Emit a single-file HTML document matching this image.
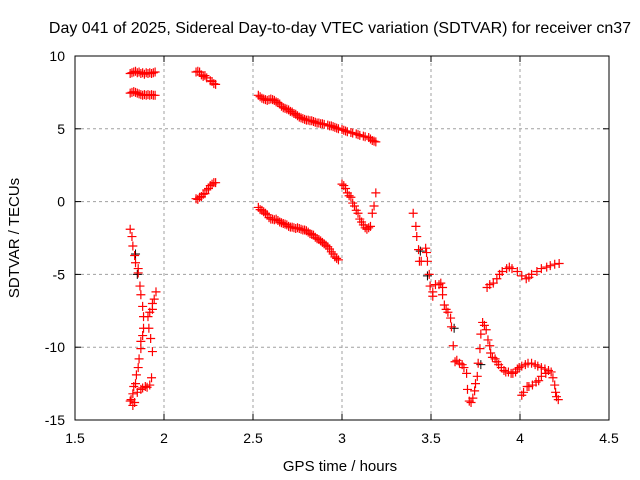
<!DOCTYPE html>
<html><head><meta charset="utf-8"><style>
html,body{margin:0;padding:0;background:#fff;}
svg{display:block;font-family:"Liberation Sans",sans-serif;}
</style></head><body>
<svg id="chart" width="640" height="480" viewBox="0 0 640 480" xmlns="http://www.w3.org/2000/svg">
<rect x="0" y="0" width="640" height="480" fill="#fff"/>
<g id="grid"></g>
<g id="marks"></g>
<rect x="75" y="56" width="534" height="364" fill="none" stroke="#000" stroke-width="1"/>
<g id="ticks"></g>
<text x="340" y="33" font-size="16" text-anchor="middle">Day 041 of 2025, Sidereal Day-to-day VTEC variation (SDTVAR) for receiver cn37</text>
<text x="340" y="471" font-size="15" text-anchor="middle">GPS time / hours</text>
<text transform="translate(19,238) rotate(-90)" font-size="15" text-anchor="middle">SDTVAR / TECUs</text>
</svg>
<script>
const xTicks=[1.5,2,2.5,3,3.5,4,4.5];
const yTicks=[10,5,0,-5,-10,-15];
const segA=[[1.81,8.8],[1.82,8.85],[1.83,8.9],[1.84,8.95],[1.85,8.85],[1.86,8.9],[1.87,8.8],[1.88,8.85],[1.89,8.75],[1.9,8.85],[1.91,8.8],[1.92,8.85],[1.93,8.8],[1.94,8.85],[1.95,8.9]];
const segB=[[1.81,7.45],[1.82,7.5],[1.83,7.55],[1.84,7.5],[1.85,7.45],[1.86,7.4],[1.87,7.35],[1.88,7.3],[1.89,7.35],[1.9,7.3],[1.91,7.35],[1.92,7.3],[1.93,7.35],[1.94,7.3],[1.95,7.3]];
const segC=[[2.18,8.9],[2.19,8.95],[2.2,8.9],[2.21,8.7],[2.22,8.6],[2.23,8.65],[2.24,8.5],[2.26,8.3],[2.27,8.25],[2.28,8.1],[2.29,8.05]];
const segD=[[2.18,0.2],[2.19,0.15],[2.2,0.3],[2.21,0.35],[2.22,0.5],[2.23,0.55],[2.24,0.8],[2.25,0.9],[2.26,1.1],[2.27,1.2],[2.28,1.3],[2.29,1.3]];
const segE=[[2.53,7.3],[2.54,7.2],[2.55,7.1],[2.56,7.05],[2.57,7.0],[2.58,6.95],[2.59,7.0],[2.6,7.05],[2.61,7.0],[2.62,6.95],[2.63,6.85],[2.64,6.8],[2.65,6.7],[2.66,6.55],[2.67,6.45],[2.68,6.4],[2.69,6.35],[2.7,6.3],[2.71,6.2],[2.72,6.15],[2.73,6.05],[2.74,6.0],[2.75,5.9],[2.76,5.8],[2.77,5.75],[2.78,5.7],[2.79,5.65],[2.8,5.6],[2.81,5.6],[2.82,5.55],[2.83,5.55],[2.84,5.5],[2.85,5.45],[2.86,5.4],[2.87,5.4],[2.88,5.35],[2.89,5.35],[2.9,5.3],[2.92,5.25],[2.93,5.2],[2.94,5.2],[2.95,5.15],[2.96,5.1],[2.97,5.05],[2.98,5.0],[3.0,4.95],[3.01,4.9],[3.02,4.85],[3.03,4.8],[3.05,4.75],[3.06,4.7],[3.08,4.65],[3.09,4.6],[3.1,4.55],[3.12,4.5],[3.13,4.45],[3.15,4.4],[3.16,4.3],[3.17,4.2],[3.18,4.15],[3.19,4.1]];
const segF=[[2.53,-0.4],[2.54,-0.55],[2.55,-0.6],[2.56,-0.7],[2.57,-0.8],[2.58,-0.9],[2.59,-1.1],[2.6,-1.2],[2.61,-1.2],[2.62,-1.25],[2.63,-1.2],[2.64,-1.3],[2.65,-1.4],[2.66,-1.45],[2.67,-1.5],[2.68,-1.55],[2.69,-1.6],[2.7,-1.7],[2.71,-1.75],[2.72,-1.75],[2.73,-1.8],[2.74,-1.85],[2.75,-1.8],[2.76,-1.85],[2.77,-1.9],[2.78,-1.95],[2.79,-1.95],[2.8,-2.0],[2.81,-2.1],[2.82,-2.2],[2.83,-2.25],[2.84,-2.3],[2.85,-2.45],[2.86,-2.55],[2.87,-2.6],[2.88,-2.7],[2.89,-2.8],[2.9,-2.9],[2.91,-3.0],[2.92,-3.1],[2.93,-3.25],[2.94,-3.45],[2.95,-3.6],[2.96,-3.8],[2.97,-3.9],[2.98,-4.0]];
const segG=[[3.0,1.2],[3.01,1.1],[3.02,0.9],[3.03,0.6],[3.04,0.4],[3.05,0.3],[3.06,-0.1],[3.07,-0.3],[3.08,-0.6],[3.09,-0.8],[3.1,-1.2],[3.11,-1.4],[3.12,-1.6],[3.13,-1.8],[3.14,-1.9],[3.15,-1.8],[3.16,-1.7],[3.17,-0.8],[3.18,-0.3],[3.19,0.6]];
const segH=[[1.81,-1.9],[1.82,-2.4],[1.825,-3.05],[1.835,-3.7],[1.84,-4.2],[1.855,-4.6],[1.855,-4.9],[1.865,-5.8],[1.87,-6.4],[1.88,-7.2],[1.885,-7.9],[1.885,-8.7],[1.88,-9.2],[1.87,-9.6],[1.87,-10.1],[1.86,-10.8],[1.855,-11.4],[1.845,-11.9],[1.84,-12.5],[1.83,-12.7],[1.825,-13.2],[1.815,-13.6],[1.81,-13.7],[1.825,-14.0],[1.935,-10.3],[1.925,-9.4],[1.915,-8.7],[1.91,-7.9],[1.92,-7.6],[1.935,-7.4],[1.935,-7.0],[1.945,-6.7],[1.955,-6.2],[1.835,-13.8],[1.85,-13.1],[1.87,-12.9],[1.895,-12.7],[1.92,-12.6],[1.93,-12.1],[1.88,-12.8],[1.905,-12.75]];
const segI=[[3.4,-0.8],[3.415,-1.7],[3.42,-2.4],[3.43,-3.3],[3.435,-4.1],[3.445,-4.1],[3.47,-3.2],[3.475,-3.5],[3.48,-4.1],[3.49,-5.0],[3.495,-5.8],[3.51,-6.2],[3.51,-6.5],[3.525,-5.7],[3.545,-5.7],[3.555,-5.6],[3.565,-5.9],[3.565,-6.4],[3.575,-7.1],[3.585,-7.4],[3.595,-7.6],[3.61,-8.0],[3.615,-8.6],[3.625,-9.9],[3.635,-11.0],[3.645,-10.9],[3.66,-11.1],[3.675,-11.2],[3.685,-11.4],[3.7,-11.8],[3.705,-12.9],[3.715,-13.7],[3.725,-13.8],[3.735,-13.5],[3.745,-13.0],[3.75,-12.5],[3.76,-12.0],[3.765,-11.1],[3.775,-10.1],[3.78,-9.1],[3.79,-8.3],[3.8,-8.5],[3.81,-8.8],[3.82,-9.5],[3.83,-9.9],[3.835,-10.4],[3.845,-10.7],[3.86,-10.8],[3.87,-11.0],[3.88,-11.2],[3.895,-11.4],[3.91,-11.6],[3.92,-11.7],[3.935,-11.7],[3.95,-11.8],[3.96,-11.8],[3.975,-11.7],[3.985,-11.5],[3.995,-11.4],[4.01,-11.3],[4.03,-11.2],[4.045,-11.1],[4.065,-11.1],[4.085,-11.2],[4.1,-11.3],[4.12,-11.4],[4.14,-11.5]];
const segJ=[[4.01,-13.3],[4.02,-13.1],[4.04,-12.7],[4.05,-12.7],[4.07,-12.6],[4.09,-12.4],[4.105,-12.3],[4.12,-12.0],[4.145,-11.8],[4.16,-11.6],[4.175,-11.7],[4.185,-12.1],[4.195,-12.6],[4.2,-13.1],[4.205,-13.4],[4.215,-13.6]];
const segK=[[3.815,-5.9],[3.83,-5.7],[3.85,-5.6],[3.87,-5.3],[3.885,-5.0],[3.9,-4.8],[3.925,-4.6],[3.94,-4.5],[3.955,-4.6],[3.985,-4.8],[4.01,-5.1],[4.035,-5.3],[4.05,-5.2],[4.065,-5.0],[4.095,-4.8],[4.12,-4.6],[4.15,-4.5],[4.17,-4.4],[4.195,-4.3],[4.22,-4.25]];
const blackPts=[[1.84,-3.6],[1.85,-5.0],[3.44,-3.4],[3.48,-5.1],[3.63,-8.7],[3.78,-11.2]];
const redSeries=[segA,segB,segC,segD,segE,segF,segG,segH,segI,segJ,segK];
const redNames=['seg-upper-8p8','seg-upper-7p4','seg-c','seg-d','seg-e','seg-f','seg-g','seg-h','seg-i','seg-j','seg-k'];

const X0=75,X1=609,Y0=420,Y1=56;
function sx(v){return X0+(v-1.5)/(4.5-1.5)*(X1-X0);}
function sy(v){return Y0-(v+15)/(10+15)*(Y0-Y1);}
const NS='http://www.w3.org/2000/svg';
function mk(tag,attrs,parent){const e=document.createElementNS(NS,tag);for(const k in attrs)e.setAttribute(k,attrs[k]);parent.appendChild(e);return e;}
const grid=document.getElementById('grid'),ticks=document.getElementById('ticks'),marks=document.getElementById('marks');
xTicks.forEach(t=>{
  const x=sx(t);
  if(t>1.5&&t<4.5){const g=mk('line',{x1:x,y1:Y0,x2:x,y2:Y1,stroke:'#a0a0a0','stroke-dasharray':'3,3'},grid);
  
  }
  const a=mk('line',{x1:x,y1:Y0,x2:x,y2:Y0-6,stroke:'#000'},ticks);
  
  
  const b=mk('line',{x1:x,y1:Y1,x2:x,y2:Y1+6,stroke:'#000'},ticks);
  
  
  const l=mk('text',{x:x,y:443,'font-size':14,'text-anchor':'middle'},ticks);
  l.textContent=String(t);
  
  
});
yTicks.forEach(t=>{
  const y=sy(t);
  if(t>-15&&t<10){const g=mk('line',{x1:X0,y1:y,x2:X1,y2:y,stroke:'#a0a0a0','stroke-dasharray':'3,3'},grid);
  
  }
  const a=mk('line',{x1:X0,y1:y,x2:X0+6,y2:y,stroke:'#000'},ticks);
  
  
  const b=mk('line',{x1:X1,y1:y,x2:X1-6,y2:y,stroke:'#000'},ticks);
  
  
  const l=mk('text',{x:X0-10,y:y+5,'font-size':14,'text-anchor':'end'},ticks);
  l.textContent=String(t);
  
  
});
function plus(p,color,name,sw){
  const x=sx(p[0]),y=sy(p[1]);
  const e=mk('path',{d:`M${x-4.5},${y}H${x+4.5}M${x},${y-4.5}V${y+4.5}`,stroke:color,'stroke-width':sw,fill:'none'},marks);
  
  
}
blackPts.forEach(p=>plus(p,'#000','black-point',1));
redSeries.forEach((s,i)=>s.forEach(p=>plus(p,'#ff0000',redNames[i]+'-point',1.2)));
</script>
</body></html>
